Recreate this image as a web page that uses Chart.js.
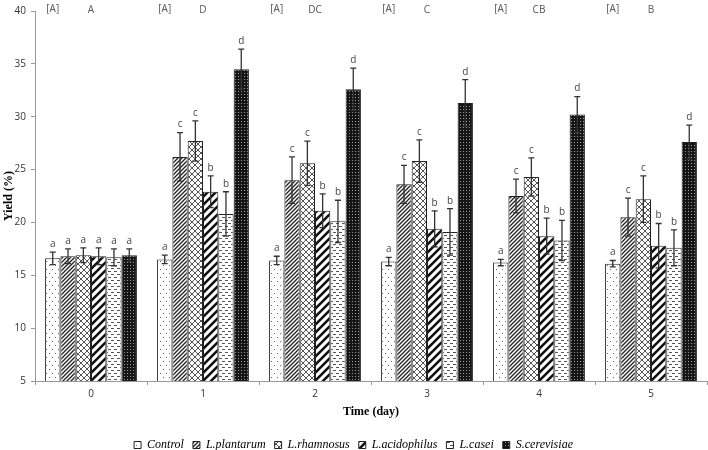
<!DOCTYPE html>
<html>
<head>
<meta charset="utf-8">
<script src="https://cdn.jsdelivr.net/npm/chart.js@4"></script>
<style>
  html, body { margin: 0; padding: 0; background: #fff; }
  #wrap { width: 708px; height: 450px; }
</style>
</head>
<body>
<div id="wrap"><canvas id="yieldChart"></canvas></div>
<script>
// ============================================================
// DATA
// ============================================================
const days = ['0', '1', '2', '3', '4', '5'];

const control     = [16.6, 16.5, 16.4, 16.3, 16.2, 16.1];
const plantarum   = [16.8, 26.2, 24.0, 23.6, 22.5, 20.5];
const rhamnosus   = [16.9, 27.7, 25.6, 25.8, 24.3, 22.2];
const acidophilus = [16.8, 22.9, 21.1, 19.4, 18.7, 17.8];
const casei       = [16.7, 20.8, 20.1, 19.1, 18.3, 17.6];
const cerevisiae  = [16.9, 34.5, 32.6, 31.3, 30.2, 27.6];

const errControl     = [0.6, 0.4, 0.4, 0.4, 0.3, 0.3];
const errPlantarum   = [0.7, 2.3, 2.2, 1.8, 1.6, 1.8];
const errRhamnosus   = [0.7, 1.9, 2.1, 2.0, 1.8, 2.2];
const errAcidophilus = [0.8, 1.5, 1.6, 1.7, 1.7, 2.1];
const errCasei       = [0.8, 2.1, 2.0, 2.2, 1.9, 1.7];
const errCerevisiae  = [0.6, 1.9, 2.0, 2.2, 1.7, 1.6];

const sigControl     = ['a', 'a', 'a', 'a', 'a', 'a'];
const sigPlantarum   = ['a', 'c', 'c', 'c', 'c', 'c'];
const sigRhamnosus   = ['a', 'c', 'c', 'c', 'c', 'c'];
const sigAcidophilus = ['a', 'b', 'b', 'b', 'b', 'b'];
const sigCasei       = ['a', 'b', 'b', 'b', 'b', 'b'];
const sigCerevisiae  = ['a', 'd', 'd', 'd', 'd', 'd'];

const groupBracket = ['[A]', '[A]', '[A]', '[A]', '[A]', '[A]'];
const groupLetters = ['A', 'D', 'DC', 'C', 'CB', 'B'];

const yTicks = [5, 10, 15, 20, 25, 30, 35, 40];

// ============================================================
// FILL PATTERNS (the figure is black & white)
// ============================================================
function tile(w, h, draw) {
  const c = document.createElement('canvas');
  c.width = w; c.height = h;
  const ctx = c.getContext('2d');
  ctx.fillStyle = '#fff';
  ctx.fillRect(0, 0, w, h);
  draw(ctx);
  return ctx.createPattern(c, 'repeat');
}

const patDots = tile(6, 8, ctx => {
  ctx.fillStyle = '#666';
  ctx.fillRect(1, 1, 1, 1);
  ctx.fillRect(4, 5, 1, 1);
});
const patFineDiag = tile(4, 4, ctx => {
  ctx.strokeStyle = '#222';
  ctx.lineWidth = 1.3;
  ctx.beginPath();
  ctx.moveTo(-1, 5); ctx.lineTo(5, -1);
  ctx.moveTo(-1, 1); ctx.lineTo(1, -1);
  ctx.moveTo(3, 5); ctx.lineTo(5, 3);
  ctx.stroke();
});
const patCross = tile(6, 6, ctx => {
  ctx.strokeStyle = '#555';
  ctx.lineWidth = 1;
  ctx.beginPath();
  ctx.moveTo(0, 0); ctx.lineTo(6, 6);
  ctx.moveTo(0, 6); ctx.lineTo(6, 0);
  ctx.stroke();
});
const patWideDiag = tile(8, 8, ctx => {
  ctx.strokeStyle = '#111';
  ctx.lineWidth = 2.6;
  ctx.beginPath();
  ctx.moveTo(-2, 10); ctx.lineTo(10, -2);
  ctx.moveTo(-2, 2); ctx.lineTo(2, -2);
  ctx.moveTo(6, 10); ctx.lineTo(10, 6);
  ctx.stroke();
});
const patDashes = tile(6, 6, ctx => {
  ctx.fillStyle = '#555';
  ctx.fillRect(0, 1, 3, 1);
  ctx.fillRect(3, 4, 3, 1);
});
const patChecker = tile(3, 3, ctx => {
  ctx.fillStyle = '#151515';
  ctx.fillRect(0, 0, 3, 3);
  ctx.fillStyle = '#999';
  ctx.fillRect(1, 1, 1, 1);
});

// ============================================================
// PLUGINS: error bars + significance letters, group headers
// ============================================================
const errorBars = {
  id: 'errorBars',
  afterDatasetsDraw(chart) {
    const { ctx } = chart;
    const y = chart.scales.y;
    chart.data.datasets.forEach((ds, di) => {
      const meta = chart.getDatasetMeta(di);
      meta.data.forEach((bar, i) => {
        const v = ds.data[i], e = ds.err[i];
        const top = y.getPixelForValue(v + e);
        const bot = y.getPixelForValue(v - e);
        ctx.save();
        ctx.strokeStyle = '#333';
        ctx.lineWidth = 1.3;
        ctx.beginPath();
        ctx.moveTo(bar.x, top); ctx.lineTo(bar.x, bot);
        ctx.moveTo(bar.x - 3, top); ctx.lineTo(bar.x + 3, top);
        ctx.moveTo(bar.x - 3, bot); ctx.lineTo(bar.x + 3, bot);
        ctx.stroke();
        ctx.fillStyle = '#444';
        ctx.font = '10px "Open Sans", sans-serif';
        ctx.textAlign = 'center';
        ctx.textBaseline = 'bottom';
        ctx.fillText(ds.sig[i], bar.x, top - 3);
        ctx.restore();
      });
    });
  }
};

const groupHeaders = {
  id: 'groupHeaders',
  afterDraw(chart) {
    const { ctx } = chart;
    const x = chart.scales.x;
    const first = chart.getDatasetMeta(0);
    ctx.save();
    ctx.fillStyle = '#555';
    ctx.font = '10px "Open Sans", sans-serif';
    ctx.textAlign = 'center';
    ctx.textBaseline = 'middle';
    days.forEach((d, i) => {
      ctx.fillText(groupBracket[i], first.data[i].x, 9);
      ctx.fillText(groupLetters[i], x.getPixelForValue(i), 10);
    });
    ctx.restore();
  }
};

// ============================================================
// CHART
// ============================================================
const mk = (label, data, err, sig, pattern) => ({
  label, data, err, sig,
  backgroundColor: pattern,
  borderColor: '#222',
  borderWidth: 1,
  categoryPercentage: 0.82,
  barPercentage: 1.0
});

new Chart(document.getElementById('yieldChart'), {
  type: 'bar',
  data: {
    labels: days,
    datasets: [
      mk('Control', control, errControl, sigControl, patDots),
      mk('L.plantarum', plantarum, errPlantarum, sigPlantarum, patFineDiag),
      mk('L.rhamnosus', rhamnosus, errRhamnosus, sigRhamnosus, patCross),
      mk('L.acidophilus', acidophilus, errAcidophilus, sigAcidophilus, patWideDiag),
      mk('L.casei', casei, errCasei, sigCasei, patDashes),
      mk('S.cerevisiae', cerevisiae, errCerevisiae, sigCerevisiae, patChecker)
    ]
  },
  options: {
    responsive: true,
    maintainAspectRatio: false,
    animation: false,
    layout: { padding: { top: 4, right: 1, left: 0, bottom: -11 } },
    plugins: {
      tooltip: { enabled: false },
      legend: {
        position: 'bottom',
        labels: {
          boxWidth: 7, boxHeight: 7, padding: 9,
          color: '#000',
          font: { family: '"Liberation Serif", serif', size: 12, style: 'italic' }
        }
      }
    },
    scales: {
      x: {
        grid: { display: true, drawOnChartArea: false, offset: true, tickLength: 4, color: '#999' },
        border: { color: '#999' },
        ticks: { color: '#333', font: { family: '"Open Sans", sans-serif', size: 10 }, padding: 3 },
        title: {
          display: true, text: 'Time (day)', color: '#000',
          font: { family: '"Liberation Serif", serif', size: 12, weight: 'bold' },
          padding: { top: 4, bottom: 11 }
        },
        afterFit(scale) { scale.height = 49; }
      },
      y: {
        min: 5, max: 40,
        afterBuildTicks(scale) { scale.ticks = yTicks.map(v => ({ value: v })); },
        grid: { display: true, drawOnChartArea: false, tickLength: 4, color: '#999' },
        border: { color: '#999' },
        ticks: { color: '#333', font: { family: '"Open Sans", sans-serif', size: 10 }, padding: 5 },
        title: {
          display: true, text: 'Yield (%)', color: '#000',
          font: { family: '"Liberation Serif", serif', size: 12, weight: 'bold' },
          padding: { top: 2, bottom: 0 }
        },
        afterFit(scale) { scale.width = 35; }
      }
    }
  },
  plugins: [errorBars, groupHeaders]
});
</script>
</body>
</html>
